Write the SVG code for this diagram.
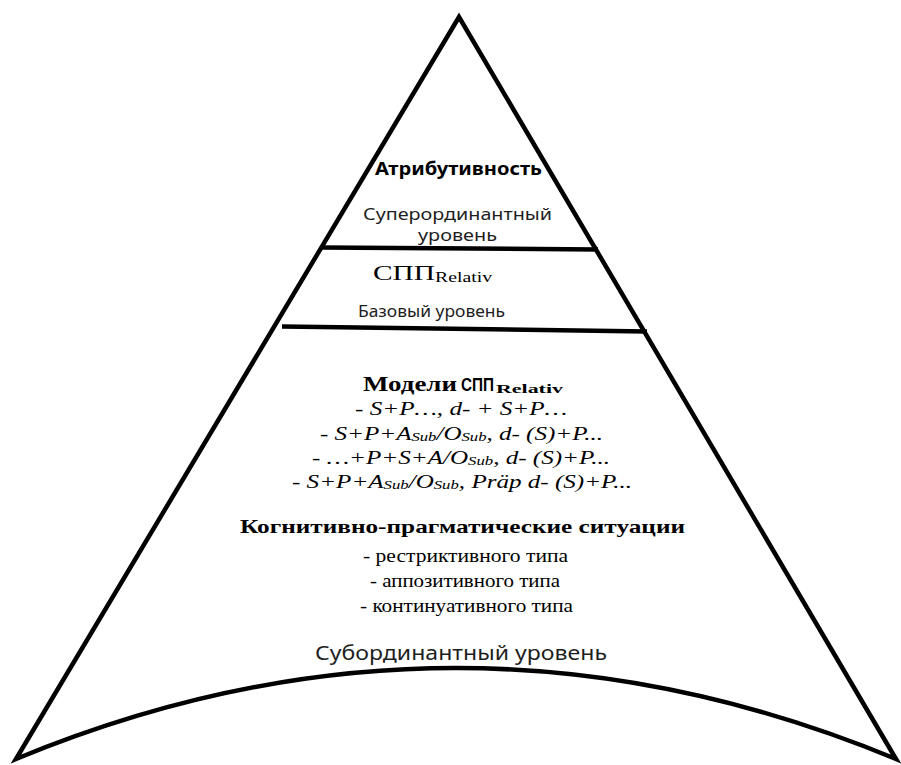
<svg xmlns="http://www.w3.org/2000/svg" width="901" height="765" viewBox="0 0 901 765">
<style>
.ln{fill:none;stroke:#000;stroke-width:4.5;stroke-linejoin:miter;stroke-linecap:butt}
.sans{font-family:"Noto Sans","Open Sans","DejaVu Sans",sans-serif;fill:#1e1e1e}
.sb{font-family:"Noto Sans","Open Sans","DejaVu Sans",sans-serif;font-weight:bold;fill:#000}
.ab{font-family:"Liberation Sans",Arial,sans-serif;font-weight:bold;fill:#000}
.ser{font-family:"Liberation Serif","DejaVu Serif",serif;fill:#000}
.serb{font-family:"Liberation Serif","DejaVu Serif",serif;font-weight:bold;fill:#000}
.it{font-family:"Liberation Serif","DejaVu Serif",serif;font-style:italic;fill:#000;font-size:19.5px}
.sub{font-size:13px}
</style>
<rect width="901" height="765" fill="#fff"/>
<g id="pyramid">
<path class="ln" d="M16,759 L459,17 L896,759 Q456,577 16,759 Z"/>
</g>
<g id="connectors">
<line class="ln" x1="321" y1="247.5" x2="598" y2="249.5"/>
<line class="ln" x1="282" y1="326.5" x2="647" y2="331.5"/>
</g>
<g id="level-superordinate">
<text class="sb" x="375" y="175" font-size="18" textLength="167" lengthAdjust="spacingAndGlyphs">Атрибутивность</text>
<text class="sans" x="363" y="220" font-size="17" textLength="189" lengthAdjust="spacingAndGlyphs">Суперординантный</text>
<text class="sans" x="418" y="241" font-size="16.5" textLength="79" lengthAdjust="spacingAndGlyphs">уровень</text>
</g>
<g id="level-basic">
<text class="ser" x="373" y="280" font-size="22" textLength="62" lengthAdjust="spacingAndGlyphs">СПП</text>
<text class="ser" x="435" y="282" font-size="15" textLength="57" lengthAdjust="spacingAndGlyphs">Relativ</text>
<text class="sans" x="358" y="317" font-size="16" textLength="147" lengthAdjust="spacingAndGlyphs">Базовый уровень</text>
</g>
<g id="level-subordinate">
<text class="serb" x="363" y="391" font-size="20" textLength="94" lengthAdjust="spacingAndGlyphs">Модели</text>
<text class="ab" x="461" y="391" font-size="19" textLength="33" lengthAdjust="spacingAndGlyphs">СПП</text>
<text class="serb" x="496" y="393" font-size="13.5" textLength="67" lengthAdjust="spacingAndGlyphs">Relativ</text>
<text class="it" x="355" y="415" textLength="212" lengthAdjust="spacingAndGlyphs">- S+P…, d- + S+P…</text>
<text class="it" x="320" y="440" textLength="283" lengthAdjust="spacingAndGlyphs">- S+P+A<tspan class="sub" dy="1">Sub</tspan><tspan dy="-1">/O</tspan><tspan class="sub" dy="1">Sub</tspan><tspan dy="-1">, d- (S)+P...</tspan></text>
<text class="it" x="312" y="464" textLength="298" lengthAdjust="spacingAndGlyphs">- …+P+S+A/O<tspan class="sub" dy="1">Sub</tspan><tspan dy="-1">, d- (S)+P...</tspan></text>
<text class="it" x="292" y="488" textLength="340" lengthAdjust="spacingAndGlyphs">- S+P+A<tspan class="sub" dy="1">Sub</tspan><tspan dy="-1">/O</tspan><tspan class="sub" dy="1">Sub</tspan><tspan dy="-1">, Präp d- (S)+P...</tspan></text>
<text class="serb" x="240" y="533" font-size="19" textLength="445" lengthAdjust="spacingAndGlyphs">Когнитивно-прагматические ситуации</text>
<text class="ser" x="363" y="562" font-size="19" textLength="205" lengthAdjust="spacingAndGlyphs">- рестриктивного типа</text>
<text class="ser" x="370" y="587" font-size="19" textLength="190" lengthAdjust="spacingAndGlyphs">- аппозитивного типа</text>
<text class="ser" x="360" y="612" font-size="19" textLength="213" lengthAdjust="spacingAndGlyphs">- континуативного типа</text>
<text class="sans" x="315" y="660" font-size="20" textLength="292" lengthAdjust="spacingAndGlyphs">Субординантный уровень</text>
</g>
</svg>
